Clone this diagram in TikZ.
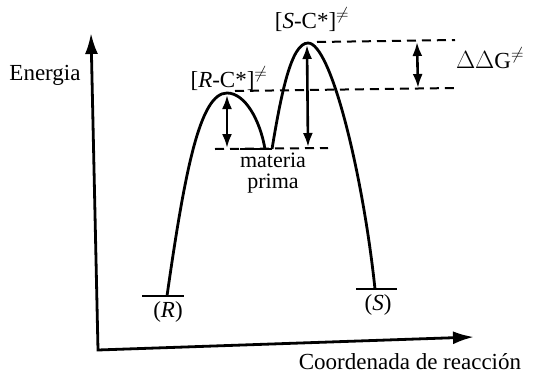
\documentclass[tikz,border=0pt]{standalone}
\usepackage{fontspec}
\setmainfont{Liberation Serif}
\usetikzlibrary{arrows.meta}
\begin{document}
\begin{tikzpicture}[x=1pt,y=-1pt,
  curve/.style={line width=2.8pt},
  axis/.style={line width=2.8pt},
  bigtip/.tip={Latex[length=21pt,width=13pt]},
  smalltip/.tip={Latex[length=14pt,width=10pt]},
  dline/.style={line width=2pt,dash pattern=on 9pt off 6pt},
  dbl/.style={line width=2.6pt,{smalltip}-{smalltip}},
  level/.style={line width=2.6pt},
  lbl/.style={font=\fontsize{23}{18}\selectfont, inner sep=0pt}]
\useasboundingbox (0,0) rectangle (533,375);
% axes
\coordinate (O) at (98,350);
\coordinate (Ytop) at (91,33);
\coordinate (Xend) at (474,337);
\draw[axis,{bigtip}-{bigtip}] (Ytop) -- (O) -- (Xend);
% levels
\coordinate (R1) at (142,296);
\coordinate (R2) at (184,296);
\coordinate (Rb) at (167,296);
\coordinate (S1) at (356,289);
\coordinate (S2) at (397,289);
\coordinate (Sb) at (375,289);
\draw[level] (R1) -- (R2);
\draw[level] (S1) -- (S2);
% peaks and well
\coordinate (P1) at (227,93);
\coordinate (P2) at (308,43);
\coordinate (M1) at (265,149);
\coordinate (M2) at (272,149);
\draw[curve] (Rb) .. controls (185,170) and (200,93) .. (P1)
  .. controls (245,93) and (260,120) .. (M1);
\draw[curve] (M2) .. controls (281,95) and (291,43) .. (P2)
  .. controls (331,43) and (363,175) .. (Sb);
% materia prima level
\coordinate (W1) at (215,149);
\coordinate (W2) at (328,148);
\coordinate (Ws1) at (240,149);
\draw[dline] (W1) -- (W2);
\draw[level] (Ws1) -- (M2);
% dashed guide lines
\coordinate (T1) at (317,42);
\coordinate (T2) at (455,40);
\coordinate (U1) at (235,91);
\coordinate (U2) at (455,88);
\draw[dline] (T1) -- (T2);
\draw[dline] (U1) -- (U2);
% double arrows
\coordinate (A1t) at (227,95);
\coordinate (A1b) at (227,148);
\coordinate (A2t) at (307,45);
\coordinate (A2b) at (308,147);
\coordinate (A3t) at (417,42);
\coordinate (A3b) at (418,88);
\draw[dbl] (A1t) -- (A1b);
\draw[dbl] (A2t) -- (A2b);
\draw[dbl] (A3t) -- (A3b);
% labels
\node[lbl] (energia) at (45,75) {Energia};
\node[lbl] (rc) at (229,79) {[\textit{R}-C*]$^{\neq}$};
\node[lbl] (sc) at (312,20) {[\textit{S}-C*]$^{\neq}$};
\node[lbl] (ddg) at (490,58) {$\Delta\Delta$G$^{\neq}$};
\node[lbl,font=\fontsize{22}{21}\selectfont,align=center] (mat) at (273,173) {materia\\prima};
\node[lbl] (rl) at (168,312) {(\textit{R})};
\node[lbl] (sl) at (378,305) {(\textit{S})};
\node[lbl] (xl) at (410,362) {Coordenada de reacción};
\end{tikzpicture}
\end{document}
